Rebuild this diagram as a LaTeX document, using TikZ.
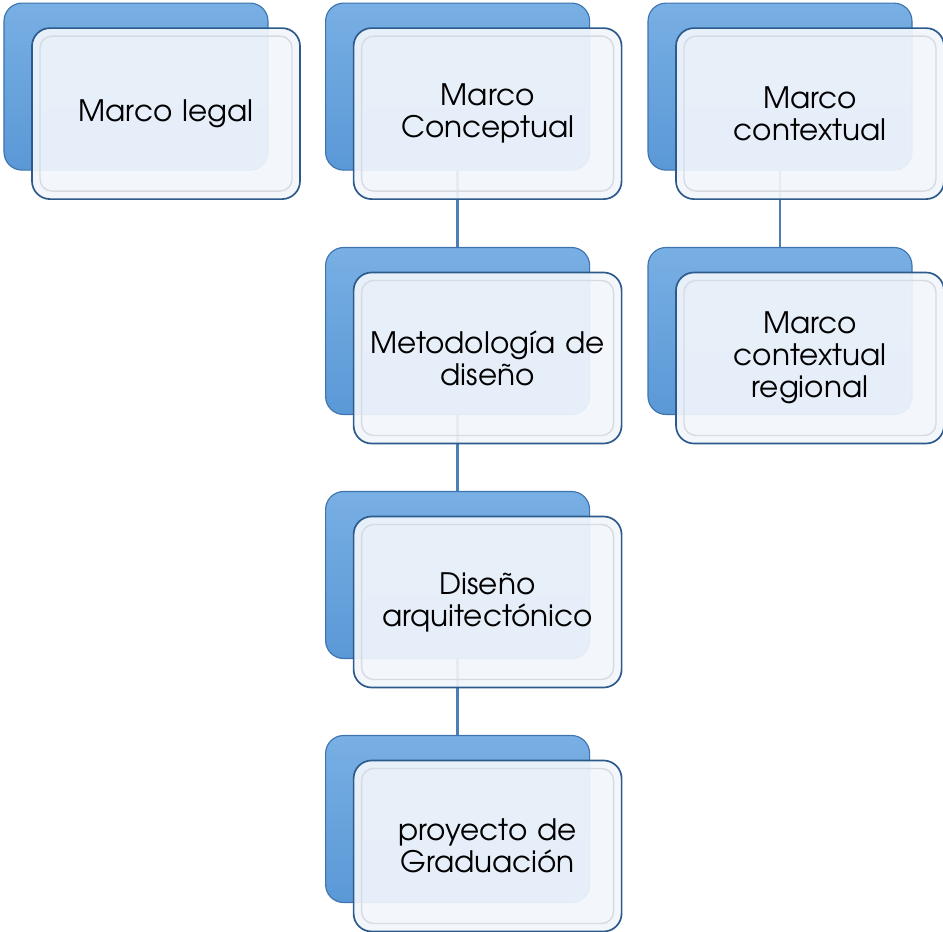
\documentclass[tikz,border=0pt]{standalone}
\usepackage{fontspec}
\setmainfont{TeX Gyre Adventor}
\definecolor{backtop}{HTML}{78AFE4}
\definecolor{backbot}{HTML}{5A98D6}
\definecolor{backedge}{HTML}{3E74AD}
\definecolor{frontedge}{HTML}{2C5A8C}
\definecolor{frontfill}{HTML}{F2F6FC}
\definecolor{rimgray}{HTML}{D6DBE2}
\definecolor{linkblue}{HTML}{4A7FB8}

\begin{document}
\begin{tikzpicture}[
	backbox/.style={draw=backedge,line width=0.8pt,rounded corners=0.45cm,minimum width=6.6cm,minimum height=4.175cm,top color=backtop,bottom color=backbot},
	frontbox/.style={draw=frontedge,line width=1.2pt,rounded corners=0.45cm,fill=frontfill,fill opacity=0.92,text opacity=1,minimum width=6.7cm,minimum height=4.275cm,align=center,text width=6.4cm,font=\fontsize{21}{22.8}\selectfont,
		path picture={\draw[rimgray,line width=1pt,rounded corners=0.3cm] ([shift={(0.2,-0.2)}]path picture bounding box.north west) rectangle ([shift={(-0.2,0.2)}]path picture bounding box.south east);}},
	link/.style={draw=linkblue,line width=2pt}]
		\useasboundingbox (0,0) rectangle (23.575,-23.3);

		% back plates
		\node[backbox] at (3.4,-2.165) (legalb) {};
		\node[backbox] at (11.44,-2.165) (conceptb) {};
		\node[backbox] at (19.5,-2.165) (contextb) {};
		\node[backbox] at (11.44,-8.275) (metodb) {};
		\node[backbox] at (19.5,-8.275) (regionb) {};
		\node[backbox] at (11.44,-14.375) (disenob) {};
		\node[backbox] at (11.44,-20.475) (proyb) {};

		\draw[link] (conceptb.south) -- (metodb.north);
		\draw[link] (metodb.south) -- (disenob.north);
		\draw[link] (disenob.south) -- (proyb.north);
		\draw[link] (contextb.south) -- (regionb.north);

		% front cards
		\node[frontbox] at (4.15,-2.84) (legal) {Marco legal};
		\node[frontbox] at (12.19,-2.84) (concept) {Marco\\Conceptual};
		\node[frontbox] at (20.25,-2.84) (context) {Marco\\contextual};
		\node[frontbox] at (12.19,-8.95) (metod) {Metodología de\\diseño};
		\node[frontbox] at (20.25,-8.95) (region) {Marco\\contextual\\regional};
		\node[frontbox] at (12.19,-15.05) (diseno) {Diseño\\arquitectónico};
		\node[frontbox] at (12.19,-21.15) (proy) {proyecto de\\Graduación};
	\end{tikzpicture}
\end{document}
